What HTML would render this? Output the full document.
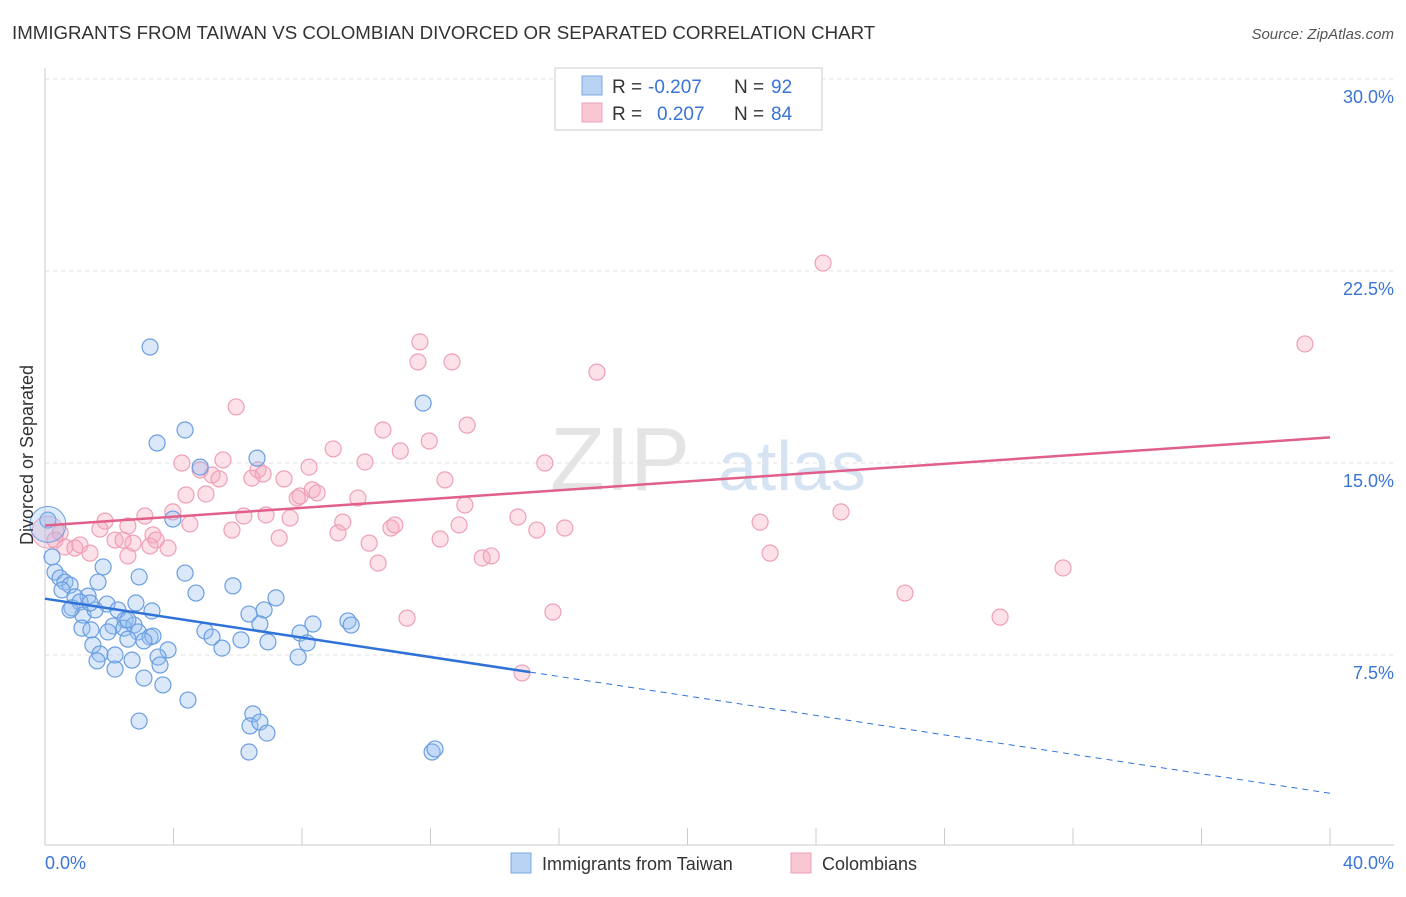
<!DOCTYPE html>
<html><head><meta charset="utf-8"><style>
body{margin:0;background:#fff;font-family:"Liberation Sans",sans-serif}
svg text{font-family:"Liberation Sans",sans-serif}
</style></head><body>
<svg id="chart" width="1406" height="892">
<text x="12" y="39" font-size="18.7" fill="#333">IMMIGRANTS FROM TAIWAN VS COLOMBIAN DIVORCED OR SEPARATED CORRELATION CHART</text>
<text x="1394" y="39" font-size="15" fill="#555" font-style="italic" text-anchor="end">Source: ZipAtlas.com</text>
<text x="690" y="490" font-size="90" fill="#e4e4e4" font-family="Liberation Serif" text-anchor="end">ZIP</text>
<text x="718" y="490" font-size="70" fill="#d6e3f3">atlas</text>
<g id="grid"></g><g id="axes"></g><g id="pink"></g><g id="blue"></g><g id="lines"></g>
<text transform="translate(33,455) rotate(-90)" font-size="18" fill="#333" text-anchor="middle">Divorced or Separated</text>
<text x="45" y="869" font-size="18" fill="#3a74d4">0.0%</text>
<text x="1394" y="869" font-size="18" fill="#3a74d4" text-anchor="end">40.0%</text>
<g>
<rect x="555" y="68" width="267" height="62" fill="#fff" stroke="#ccc"/>
<rect x="582" y="76" width="20" height="19" fill="#b8d3f3" stroke="#7aa8e0"/>
<rect x="582" y="103" width="20" height="19" fill="#f9c6d4" stroke="#eea0b6"/>
<text x="612" y="93" font-size="19" fill="#333">R =</text>
<text x="648" y="93" font-size="19" fill="#3a74d4">-0.207</text>
<text x="734" y="93" font-size="19" fill="#333">N =</text>
<text x="771" y="93" font-size="19" fill="#3a74d4">92</text>
<text x="612" y="120" font-size="19" fill="#333">R =</text>
<text x="657" y="120" font-size="19" fill="#3a74d4">0.207</text>
<text x="734" y="120" font-size="19" fill="#333">N =</text>
<text x="771" y="120" font-size="19" fill="#3a74d4">84</text>
</g>
<g>
<rect x="511" y="853" width="20" height="20" fill="#b8d3f3" stroke="#7aa8e0"/>
<text x="542" y="870" font-size="18" fill="#333">Immigrants from Taiwan</text>
<rect x="791" y="853" width="20" height="20" fill="#f9c6d4" stroke="#eea0b6"/>
<text x="822" y="870" font-size="18" fill="#333">Colombians</text>
</g>
</svg>
<script>
const yTicks=[7.5,15,22.5,30];
const yTickLabels=["7.5%","15.0%","22.5%","30.0%"];
const xTicks=[0,4,8,12,16,20,24,28,32,36,40];
const blueX=[3.27,3.49,4.36,11.77,6.60,4.83,3.98,0.09,0.22,0.31,0.47,0.62,0.78,1.65,1.81,2.93,4.36,5.85,0.53,0.93,1.34,0.84,1.09,1.93,2.83,4.70,7.19,1.18,1.56,2.27,3.33,6.35,6.82,2.49,2.12,1.15,1.43,2.46,2.77,2.58,6.69,8.34,9.43,9.53,1.96,2.90,4.98,7.94,3.27,3.36,2.58,3.08,5.20,6.10,6.94,8.16,1.49,3.83,5.51,1.71,1.62,2.18,2.71,3.52,7.88,3.58,2.18,3.08,3.67,4.45,2.93,6.47,6.38,6.69,6.91,6.35,12.05,12.14,0.78,1.40];
const blueY=[19.53,15.78,16.29,17.34,15.19,14.84,12.81,12.77,11.33,10.74,10.51,10.35,10.23,10.35,10.94,10.55,10.70,10.20,10.04,9.77,9.80,9.34,9.57,9.49,9.53,9.92,9.73,9.06,9.26,9.26,9.22,9.10,9.26,8.87,8.63,8.55,8.48,8.55,8.67,8.87,8.71,8.71,8.83,8.67,8.40,8.40,8.44,8.36,8.20,8.24,8.12,8.05,8.20,8.09,8.01,7.97,7.89,7.70,7.77,7.54,7.27,7.50,7.30,7.42,7.42,7.11,6.95,6.60,6.33,5.74,4.92,5.20,4.73,4.88,4.45,3.71,3.71,3.83,9.26,9.53];
const pinkX=[24.22,39.22,11.67,11.61,12.67,17.18,5.95,10.52,13.14,11.96,11.06,8.97,9.96,15.56,4.26,5.54,4.83,5.20,5.42,6.63,6.79,6.44,7.44,8.22,12.45,4.39,5.01,7.85,7.94,8.32,8.47,9.74,13.07,3.98,6.19,6.88,7.63,9.27,14.72,22.26,24.78,3.11,1.87,4.51,5.82,9.12,10.77,10.89,12.89,15.31,16.18,2.58,1.71,0.47,2.18,2.43,2.74,3.36,3.46,3.83,3.27,7.29,10.09,12.30,0.62,0.93,1.09,1.40,2.58,13.61,13.89,22.57,10.37,31.69,26.77,15.81,11.27,29.73,14.85,0.31];
const pinkY=[22.81,19.65,19.73,18.95,18.95,18.55,17.19,16.29,16.48,15.86,15.47,15.55,15.04,15.00,15.00,15.12,14.73,14.53,14.38,14.73,14.57,14.41,14.38,14.84,14.34,13.75,13.79,13.63,13.71,13.95,13.83,13.63,13.36,13.09,12.93,12.97,12.85,12.69,12.89,12.69,13.09,12.93,12.73,12.62,12.38,12.27,12.46,12.58,12.58,12.38,12.46,12.54,12.42,12.27,11.99,11.99,11.87,12.19,11.99,11.68,11.76,12.07,11.87,12.03,11.72,11.68,11.80,11.48,11.37,11.29,11.37,11.48,11.09,10.90,9.92,9.18,8.94,8.98,6.80,11.99];
const blueTrend=[9.70,-0.19]; // intercept, slope per %
const pinkTrend=[12.56,0.086];
const X=v=>45+v/40*1285, Y=v=>847-v*25.6;
const NS="http://www.w3.org/2000/svg";
function mk(parent,tag,attrs){const e=document.createElementNS(NS,tag);for(const k in attrs)e.setAttribute(k,attrs[k]);document.getElementById(parent).appendChild(e);return e;}
yTicks.forEach((t,i)=>{
 const l=mk('grid','line',{x1:45,x2:1394,y1:Y(t),y2:Y(t),stroke:'#e2e2e2','stroke-dasharray':'4,4'});
 
 
 const tx=mk('grid','text',{x:1394,y:Y(t)+24,'font-size':18,fill:'#3a74d4','text-anchor':'end'});
 tx.textContent=yTickLabels[i];
 
 
});
const ax=mk('axes','line',{x1:45,x2:1394,y1:845,y2:845,stroke:'#ccc'});


const ay=mk('axes','line',{x1:45,x2:45,y1:68,y2:845,stroke:'#ccc'});


xTicks.forEach(t=>{
 const l=mk('axes','line',{x1:X(t),x2:X(t),y1:828,y2:845,stroke:'#ccc'});
 
 
});
pinkX.forEach((x,i)=>{
 const c=mk('pink','circle',{cx:X(x),cy:Y(pinkY[i]),r:8,fill:'rgba(246,170,192,0.35)',stroke:'#eea0b6','stroke-width':1.2});
 
 
});
blueX.forEach((x,i)=>{
 const c=mk('blue','circle',{cx:X(x),cy:Y(blueY[i]),r:8,fill:'rgba(150,190,240,0.35)',stroke:'#6a9ee0','stroke-width':1.2});
 
 
});
const big1=mk('blue','circle',{cx:X(0.09),cy:Y(12.6),r:18,fill:'rgba(150,190,240,0.3)',stroke:'#6a9ee0'});


const big2=mk('pink','circle',{cx:X(0.09),cy:Y(12.3),r:16,fill:'rgba(246,170,192,0.3)',stroke:'#eea0b6'});


const bt=v=>blueTrend[0]+blueTrend[1]*v, pt=v=>pinkTrend[0]+pinkTrend[1]*v;
const b1=mk('lines','line',{x1:X(0),y1:Y(bt(0)),x2:X(15.1),y2:Y(bt(15.1)),stroke:'#2f72d8','stroke-width':2.5});


const b2=mk('lines','line',{x1:X(15.1),y1:Y(bt(15.1)),x2:X(40),y2:Y(bt(40)),stroke:'#2f72d8','stroke-width':1,'stroke-dasharray':'6,5'});


const p1=mk('lines','line',{x1:X(0),y1:Y(pt(0)),x2:X(40),y2:Y(pt(40)),stroke:'#e0608a','stroke-width':2.5});


</script>
</body></html>
